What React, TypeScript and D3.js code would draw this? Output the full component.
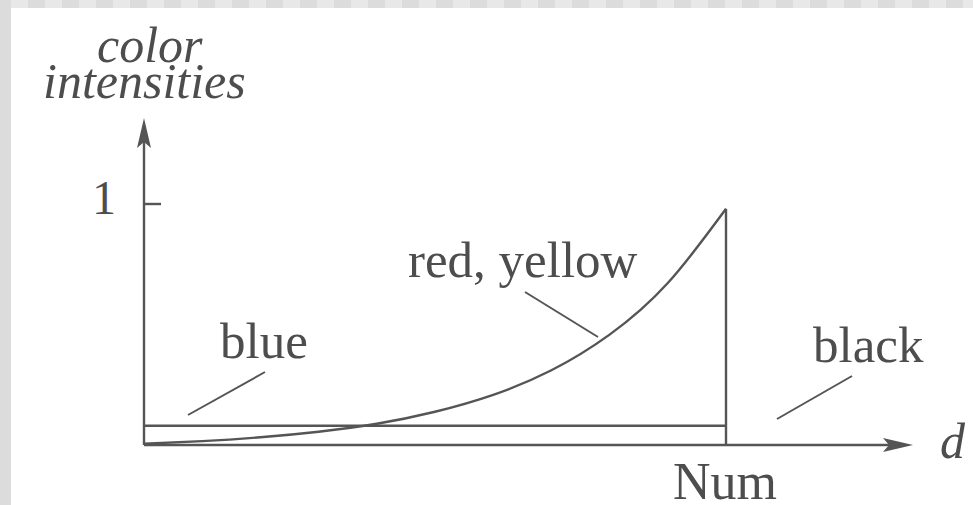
import React, {useEffect, useRef} from 'react';
import * as d3 from 'd3';

// distance d, in percent of Num
const redYellowD = [0, 10, 20, 30, 40, 50, 60, 70, 80, 90, 100];
const redYellowI = [0.005, 0.016, 0.032, 0.055, 0.088, 0.138, 0.208, 0.31, 0.458, 0.672, 0.98];
const blueD = [0, 100];
const blueI = [0.08, 0.08];
const numD = 100;
const yTicks = [1];
const xTickLabels = ['Num'];

const W = 973;
const H = 505;
const ink = '#555';
const textInk = '#4d4d4d';

const App: React.FC = () => {
    const svgRef = useRef<SVGSVGElement>(null);

    useEffect(() => {
        document.body.style.margin = '0';
        const svg = d3.select(svgRef.current);
        svg.selectAll('*').remove();

        // scanned page border
        svg.append('rect').attr('width', W).attr('height', H).attr('fill', '#fff');
        svg.append('rect').attr('width', 11).attr('height', H).attr('fill', '#dcdcdc');
        const tiles = d3.range(0, Math.ceil((W - 11) / 17));
        svg.selectAll('.tile')
            .data(tiles)
            .enter().append('rect')
            .attr('x', d => 11 + d * 17)
            .attr('y', 0)
            .attr('width', 17)
            .attr('height', 8)
            .attr('fill', d => (d % 2 === 0 ? '#e8e8e8' : '#dcdcdc'));

        const x = d3.scaleLinear().domain([0, 100]).range([144, 726]);
        const y = d3.scaleLinear().domain([0, 1]).range([445, 204]);
        const xEnd = 913;
        const yEnd = 118;

        const g = svg.append('g')
            .attr('fill', 'none')
            .attr('stroke', ink)
            .attr('stroke-width', 2.4);

        // axes
        g.append('line').attr('x1', x(0)).attr('y1', y(0)).attr('x2', xEnd - 20).attr('y2', y(0));
        g.append('line').attr('x1', x(0)).attr('y1', y(0)).attr('x2', x(0)).attr('y2', yEnd + 20);

        const head = 30, half = 7, notch = 6;
        svg.append('path')
            .attr('fill', ink)
            .attr('d', `M${xEnd},${y(0)} L${xEnd - head},${y(0) - half} L${xEnd - head + notch},${y(0)} L${xEnd - head},${y(0) + half} Z`);
        svg.append('path')
            .attr('fill', ink)
            .attr('d', `M${x(0)},${yEnd} L${x(0) - half},${yEnd + head} L${x(0)},${yEnd + head - notch} L${x(0) + half},${yEnd + head} Z`);

        // y tick
        yTicks.forEach(t => {
            g.append('line').attr('x1', x(0)).attr('x2', x(0) + 17).attr('y1', y(t)).attr('y2', y(t));
        });

        const line = d3.line<[number, number]>()
            .x(d => x(d[0]))
            .y(d => y(d[1]))
            .curve(d3.curveNatural);

        // blue
        g.append('path')
            .datum(blueD.map((d, i) => [d, blueI[i]] as [number, number]))
            .attr('d', line);

        // red, yellow
        const ry = redYellowD.map((d, i) => [d, redYellowI[i]] as [number, number]);
        g.append('path').datum(ry).attr('d', line);

        // drop at Num
        g.append('line')
            .attr('x1', x(numD)).attr('x2', x(numD))
            .attr('y1', y(0)).attr('y2', y(redYellowI[redYellowI.length - 1]));

        // leader lines
        const leaders: [number, number, number, number][] = [
            [188, 415, 265, 372],
            [525, 292, 598, 337],
            [777, 419, 852, 376],
        ];
        g.selectAll('.leader')
            .data(leaders)
            .enter().append('line')
            .attr('stroke-width', 2)
            .attr('x1', d => d[0]).attr('y1', d => d[1])
            .attr('x2', d => d[2]).attr('y2', d => d[3]);

        // text
        const txt = svg.append('g')
            .attr('fill', textInk)
            .style('font-family', '"Liberation Serif", "DejaVu Serif", serif');

        const label = (s: string, px: number, py: number, size: number, italic = false) =>
            txt.append('text')
                .attr('x', px).attr('y', py)
                .style('font-size', `${size}px`)
                .style('font-style', italic ? 'italic' : 'normal')
                .text(s);

        label('color', 97, 62, 50, true);
        label('intensities', 43, 98, 50, true);
        yTicks.forEach(t => label(String(t), 92, y(t) + 10, 48));
        label('red, yellow', 408, 277, 51);
        label('blue', 220, 358, 51);
        label('black', 813, 362, 51);
        label(xTickLabels[0], 673, 499, 52);
        label('d', 940, 458, 50, true);
    }, []);

    return <svg ref={svgRef} width={W} height={H} style={{display: 'block'}}/>;
};

export default App;
